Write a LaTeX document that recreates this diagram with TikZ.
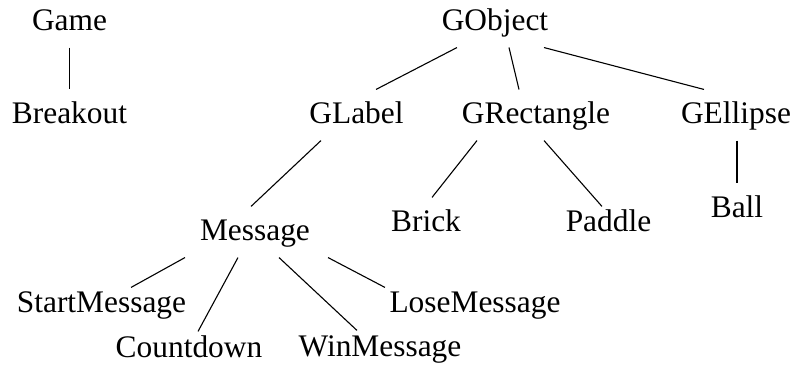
\documentclass[tikz,border=0pt]{standalone}
\usepackage{fontspec}
\setmainfont{Liberation Serif}

\begin{document}
\begin{tikzpicture}[x=1pt,y=-1pt,line width=1.1pt,
    every node/.style={anchor=base,inner sep=0pt,text height=34pt,text depth=16pt,
      font=\fontsize{31.4}{36}\selectfont},
    leaf/.style={text height=25pt}]
      \useasboundingbox (0,0) rectangle (796,366);

      \node (Game) at (69.5,31) {Game};
      \node (Breakout) at (69.5,124) {Breakout};
      \node (GObject) at (495,31) {GObject};
      \node (GLabel) at (356.5,124) {GLabel};
      \node (GRect) at (536,124) {GRectangle};
      \node (GEllipse) at (736,124) {GEllipse};
      \node (Message) at (255,241) {Message};
      \node (Brick) at (426,232) {Brick};
      \node[leaf] (Paddle) at (608.5,232) {Paddle};
      \node (Ball) at (737,218) {Ball};
      \node[leaf] (StartMsg) at (101.5,313) {StartMessage};
      \node[leaf] (LoseMsg) at (475,313) {LoseMessage};
      \node[leaf] (Countdown) at (189,357) {Countdown};
      \node[leaf] (WinMsg) at (380,356) {WinMessage};

      \draw (Game) to (Breakout);
      \draw ([xshift=-38pt]GObject.south) to ([xshift=19.5pt]GLabel.north);
      \draw ([xshift=14pt]GObject.south) to ([xshift=-17pt]GRect.north);
      \draw ([xshift=49pt]GObject.south) to ([xshift=-32pt]GEllipse.north);
      \draw ([xshift=-35.5pt]GLabel.south) to ([xshift=-4pt]Message.north);
      \draw ([xshift=-59pt]GRect.south) to ([xshift=6pt]Brick.north);
      \draw ([xshift=8pt]GRect.south) to ([xshift=-6.5pt]Paddle.north);
      \draw ([xshift=1pt]GEllipse.south) to (Ball.north);
      \draw ([xshift=-70pt]Message.south) to ([xshift=29.5pt]StartMsg.north);
      \draw ([xshift=-17pt]Message.south) to ([xshift=9pt]Countdown.north);
      \draw ([xshift=24pt]Message.south) to ([xshift=-23pt]WinMsg.north);
      \draw ([xshift=73pt]Message.south) to ([xshift=-90pt]LoseMsg.north);
    \end{tikzpicture}
\end{document}
